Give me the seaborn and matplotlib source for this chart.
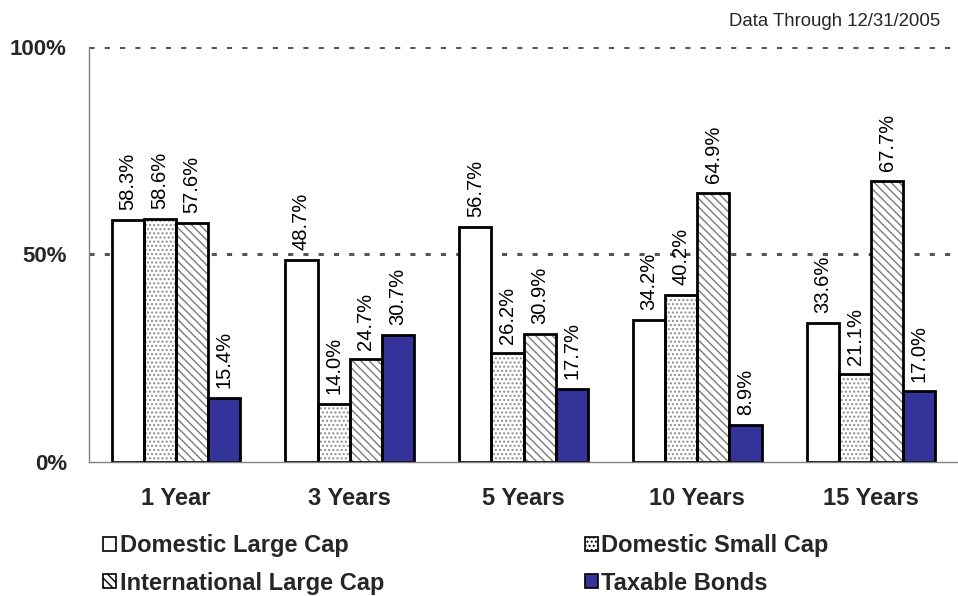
import matplotlib
matplotlib.use("Agg")
import matplotlib.pyplot as plt
from matplotlib.patches import Patch, Rectangle
from matplotlib.ticker import PercentFormatter, FixedLocator
import seaborn as sns
import pandas as pd

# Returns by holding period and asset class
periods = ["1 Year", "3 Years", "5 Years", "10 Years", "15 Years"]
assets = ["Domestic Large Cap", "Domestic Small Cap",
          "International Large Cap", "Taxable Bonds"]
domestic_large = [58.3, 48.7, 56.7, 34.2, 33.6]
domestic_small = [58.6, 14.0, 26.2, 40.2, 21.1]
international_large = [57.6, 24.7, 30.9, 64.9, 67.7]
taxable_bonds = [15.4, 30.7, 17.7, 8.9, 17.0]
y_ticks = [0, 50, 100]
note = "Data Through 12/31/2005"

series = [domestic_large, domestic_small, international_large, taxable_bonds]
df = pd.DataFrame(
    [(p, a, v) for a, vals in zip(assets, series) for p, v in zip(periods, vals)],
    columns=["period", "asset", "value"],
)

sns.set_theme(style="white")
plt.rcParams["font.family"] = ["Liberation Sans", "DejaVu Sans"]
plt.rcParams["hatch.linewidth"] = 1.0

faces = ["white", "white", "white", "#333399"]
hatches = ["", "....", "\\\\\\\\", ""]
hatch_colors = ["black", "#8c8c8c", "#7a7a7a", "black"]

fig = plt.figure(figsize=(9.58, 5.96), dpi=100)
ax = fig.add_axes([89 / 958, 1 - 462 / 596, 1 - 89 / 958, (462 - 47) / 596])

sns.barplot(data=df, x="period", y="value", hue="asset", hue_order=assets,
            order=periods, palette=faces, width=0.74, saturation=1,
            legend=False, ax=ax, zorder=3)

for cont, h, hc, vals in zip(ax.containers, hatches, hatch_colors, series):
    for bar in cont:
        bar.set_hatch(h)
        bar.set_edgecolor(hc)
        bar.set_linewidth(0)
        ax.add_patch(Rectangle(bar.get_xy(), bar.get_width(), bar.get_height(),
                               fill=False, edgecolor="black", linewidth=2.0,
                               zorder=4))
    ax.bar_label(cont, labels=[f"{v:.1f}%" for v in vals], rotation=90,
                 padding=7, fontsize=14.5, color="black")

ax.set_ylim(0, 100)
ax.set_xlim(-0.5, 4.466)
ax.yaxis.set_major_locator(FixedLocator(y_ticks))
ax.yaxis.set_major_formatter(PercentFormatter(decimals=0))

for y in y_ticks[1:]:
    ax.axhline(y, color="#555555", linewidth=2.2, linestyle=(0, (1.67, 3.33)),
               zorder=2)

for side in ["top", "right"]:
    ax.spines[side].set_visible(False)
for side in ["left", "bottom"]:
    ax.spines[side].set_color("#808080")
    ax.spines[side].set_linewidth(1.0)
    ax.spines[side].set_zorder(5)

ax.set_xlabel("")
ax.set_ylabel("")
ax.tick_params(axis="y", which="major", direction="out", length=3, width=1,
               color="#808080", pad=13, labelsize=16)
for lbl in ax.get_yticklabels():
    lbl.set_fontweight("bold")

ax.set_xticks([i - 0.5 for i in range(len(periods) + 1)], minor=True)
ax.tick_params(axis="x", which="minor", direction="out", length=6, width=1,
               color="#808080")
ax.tick_params(axis="x", which="major", length=0, pad=18, labelsize=17)
for lbl in ax.get_xticklabels():
    lbl.set_fontweight("bold")

fig.text(940 / 958, 1 - 22 / 596, note, ha="right", va="center", fontsize=13.4)

handles = [Patch(facecolor=f, edgecolor="black", hatch=h, linewidth=1.2)
           for f, h in zip(faces, hatches)]
order = [0, 2, 1, 3]
leg = fig.legend([handles[i] for i in order], [assets[i] for i in order],
                 loc="upper left", bbox_to_anchor=(103 / 958, 1 - 534 / 596),
                 ncol=2, frameon=False, borderaxespad=0, borderpad=0,
                 handlelength=0.55, handleheight=0.55, handletextpad=0.15,
                 columnspacing=8.5, labelspacing=0.62,
                 prop={"size": 17, "weight": "bold"})

fig.savefig("out.png", dpi=100)
